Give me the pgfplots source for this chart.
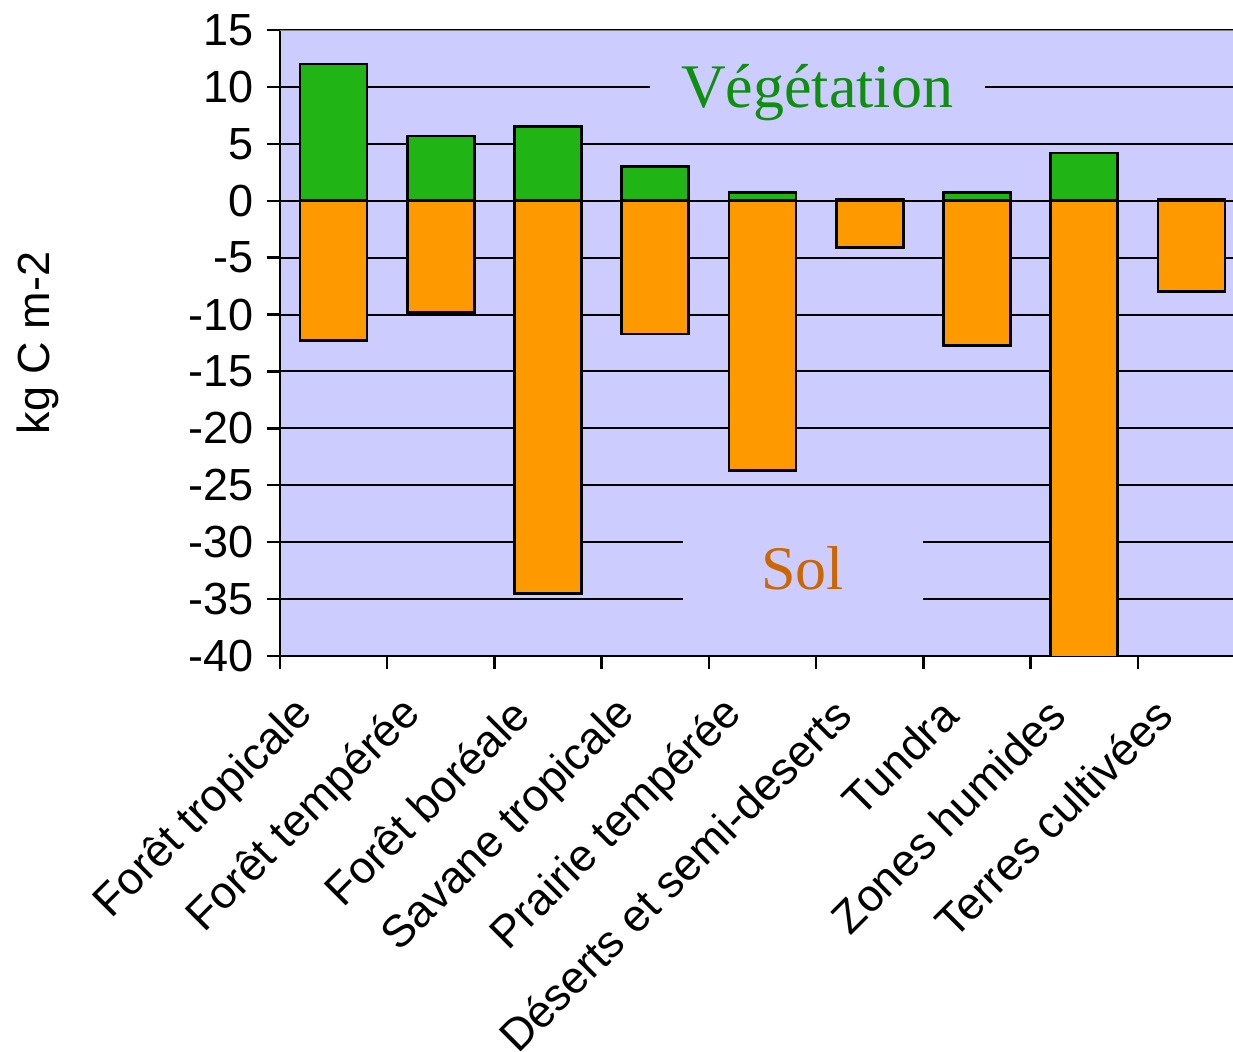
\documentclass[border=0pt]{standalone}
\usepackage{pgfplots}
\pgfplotsset{compat=1.18}
\usepackage{fontspec}
\setmainfont{Liberation Sans}
\newfontfamily\seriffont{Liberation Serif}
\definecolor{lav}{HTML}{CCCCFF}
\definecolor{vgreen}{HTML}{20B415}
\definecolor{sorange}{HTML}{FF9900}
\definecolor{tgreen}{HTML}{0E8F0E}
\definecolor{torange}{HTML}{CC6600}
\begin{document}
\begin{tikzpicture}
\begin{axis}[
  name=ax,
  scale only axis,
  width=482.5pt, height=313pt,
  xmin=0, xmax=9, ymin=-40, ymax=15,
  axis background/.style={fill=lav},
  axis x line=bottom, axis y line=left,
  axis line style={-, line width=1.2pt, black},
  ytick={-40,-35,...,15},
  xtick={0,...,9},
  x tick label as interval,
  xticklabels={Forêt tropicale,Forêt tempérée,Forêt boréale,Savane tropicale,Prairie tempérée,Déserts et semi-deserts,Tundra,Zones humides,Terres cultivées},
  tick align=outside,
  major tick length=6.5pt,
  tick style={black, line width=1.2pt},
  ymajorgrids,
  grid style={black, line width=1pt},
  /pgf/number format/assume math mode=true,
  tick label style={font=\fontsize{22.5}{25}\selectfont},
  xticklabel style={rotate=45, anchor=east, inner sep=0pt, xshift=-23pt, yshift=-4pt},
  yticklabel style={inner sep=0pt, xshift=-6.5pt},
  ybar, bar width=33.5pt, bar shift=0pt,
  clip=true,
]
\addplot[fill=vgreen, draw=black, line width=1.3pt] coordinates {
  (0.5,12.0) (1.5,5.7) (2.5,6.5) (3.5,3.0) (4.5,0.7) (5.5,0.15) (6.5,0.7) (7.5,4.2) (8.5,0.12)};
\addplot[fill=sorange, draw=black, line width=1.3pt] coordinates {
  (0.5,-12.3) (1.5,-9.8) (2.5,-34.5) (3.5,-11.7) (4.5,-23.7) (5.5,-4.1) (6.5,-12.7) (7.5,-42) (8.5,-8.0)};
\node[fill=lav, inner sep=0pt, minimum width=167.5pt, text height=24pt, text depth=8pt, anchor=base,
  font=\seriffont\fontsize{31}{34}\selectfont, text=tgreen] at (axis cs:5.01,8.15) {Végétation};
\node[fill=lav, inner sep=0pt, minimum width=120pt, text height=26pt, text depth=7pt, anchor=base,
  font=\seriffont\fontsize{31}{34}\selectfont, text=torange] at (axis cs:4.874,-34.2) {Sol};
\draw[gray, line width=1.3pt] (rel axis cs:0,1) -- (rel axis cs:1,1);
\end{axis}
\node[rotate=90, font=\fontsize{22.5}{25}\selectfont] at ([xshift=-121pt]ax.west) {kg C m-2};
\pgfresetboundingbox
\path[use as bounding box] ([xshift=-140pt,yshift=-198pt]ax.south west) rectangle ([xshift=476.5pt,yshift=328pt]ax.south west);
\end{tikzpicture}
\end{document}
